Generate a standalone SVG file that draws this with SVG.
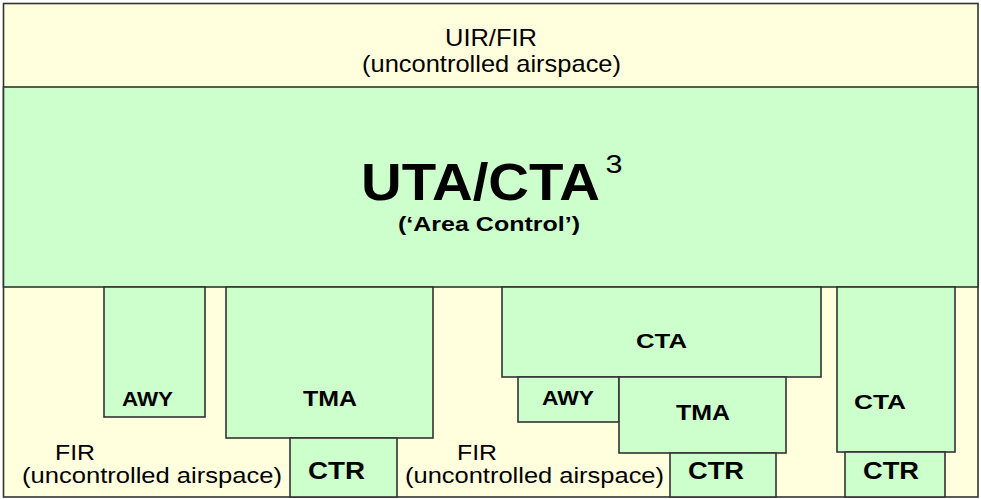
<svg xmlns="http://www.w3.org/2000/svg" width="981" height="499" viewBox="0 0 981 499">
<style>
.y{fill:#FFFFDD;stroke:#333;stroke-width:1.6}
.g{fill:#CCFFCC;stroke:#333;stroke-width:1.6}
text{font-family:"Liberation Sans",Arial,sans-serif;fill:#000;text-anchor:middle}
.r{font-size:24px}
.s{font-size:22px}
.b{font-weight:bold}
</style>
<g id="uir-fir">
<rect class="y" x="3.5" y="3.5" width="974.5" height="493.5"/>
<text class="r" x="491" y="46" textLength="92" lengthAdjust="spacingAndGlyphs">UIR/FIR</text>
<text class="r" x="491.5" y="72" textLength="259" lengthAdjust="spacingAndGlyphs">(uncontrolled airspace)</text>
</g>
<g id="uta-cta">
<rect class="g" x="3.5" y="87" width="974.5" height="200"/>
<text class="b" x="480.5" y="200" font-size="51" textLength="239" lengthAdjust="spacingAndGlyphs">UTA/CTA</text>
<text x="614" y="173" font-size="25" textLength="17" lengthAdjust="spacingAndGlyphs">3</text>
<text class="b" x="489" y="231" font-size="21" textLength="182" lengthAdjust="spacingAndGlyphs">(‘Area Control’)</text>
</g>
<g id="fir-left">
<text class="s" x="75" y="460" textLength="40" lengthAdjust="spacingAndGlyphs">FIR</text>
<text class="s" x="152" y="483" textLength="260" lengthAdjust="spacingAndGlyphs">(uncontrolled airspace)</text>
</g>
<g id="fir-middle">
<text class="s" x="477" y="460" textLength="40" lengthAdjust="spacingAndGlyphs">FIR</text>
<text class="s" x="534.5" y="483" textLength="259" lengthAdjust="spacingAndGlyphs">(uncontrolled airspace)</text>
</g>
<g id="awy-left">
<rect class="g" x="104" y="287" width="101" height="130"/>
<text class="b" x="147.5" y="406" font-size="21" textLength="51" lengthAdjust="spacingAndGlyphs">AWY</text>
</g>
<g id="tma-left">
<rect class="g" x="226" y="287" width="207" height="151"/>
<text class="b" x="330" y="406" font-size="22" textLength="54" lengthAdjust="spacingAndGlyphs">TMA</text>
</g>
<g id="ctr-left">
<rect class="g" x="290" y="438" width="107" height="59"/>
<text class="b" x="336.5" y="479" font-size="24" textLength="57" lengthAdjust="spacingAndGlyphs">CTR</text>
</g>
<g id="cta-middle">
<rect class="g" x="502" y="287" width="319" height="90"/>
<text class="b" x="661.5" y="348" font-size="21" textLength="51" lengthAdjust="spacingAndGlyphs">CTA</text>
</g>
<g id="awy-middle">
<rect class="g" x="518" y="377" width="101" height="45"/>
<text class="b" x="568" y="405" font-size="21" textLength="52" lengthAdjust="spacingAndGlyphs">AWY</text>
</g>
<g id="tma-middle">
<rect class="g" x="619" y="377" width="167" height="76"/>
<text class="b" x="703" y="420" font-size="22" textLength="54" lengthAdjust="spacingAndGlyphs">TMA</text>
</g>
<g id="ctr-middle">
<rect class="g" x="670" y="453" width="106" height="44"/>
<text class="b" x="716" y="479" font-size="24" textLength="56" lengthAdjust="spacingAndGlyphs">CTR</text>
</g>
<g id="cta-right">
<rect class="g" x="837" y="287" width="118" height="165"/>
<text class="b" x="880" y="409" font-size="21" textLength="52" lengthAdjust="spacingAndGlyphs">CTA</text>
</g>
<g id="ctr-right">
<rect class="g" x="845" y="452" width="100" height="45"/>
<text class="b" x="891" y="479" font-size="24" textLength="56" lengthAdjust="spacingAndGlyphs">CTR</text>
</g>
</svg>
